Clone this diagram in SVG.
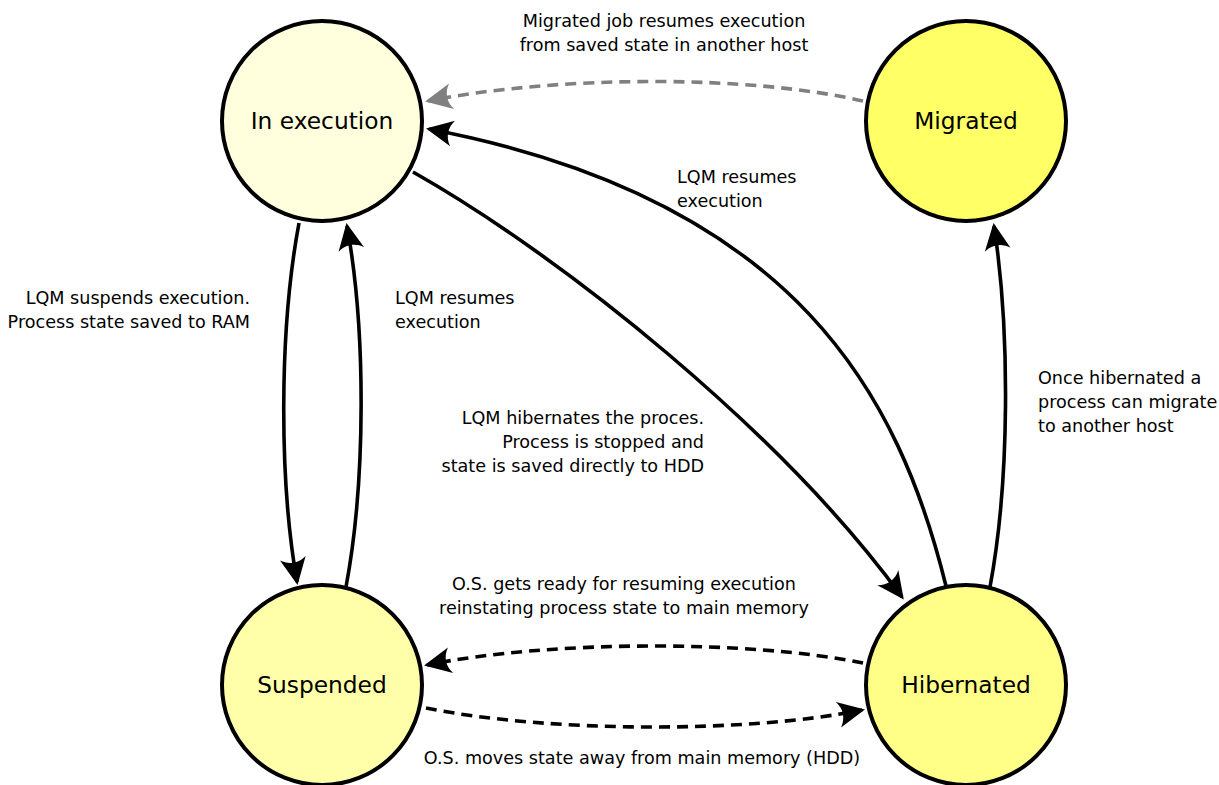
<svg xmlns="http://www.w3.org/2000/svg" width="1219" height="785" viewBox="0 0 1219 785">
  <defs>
    <style>
      .state { stroke: #000; stroke-width: 4; }
      .state-label { font-family: "DejaVu Sans", "Liberation Sans", sans-serif; font-size: 23.3px; fill: #000; text-anchor: middle; }
      .edge { fill: none; stroke: #000; stroke-width: 3.6; }
      .dashed { stroke-dasharray: 11 7; }
      .grey { stroke: #808080; }
      .edge-label { font-family: "DejaVu Sans", "Liberation Sans", sans-serif; font-size: 17.6px; fill: #000; }
    </style>
    <marker id="arrow" markerUnits="userSpaceOnUse" orient="auto" markerWidth="60" markerHeight="60" refX="0" refY="0" viewBox="-30 -30 60 60" overflow="visible">
      <path d="M3,0 L-24,-13 C-18,-5 -18,5 -24,13 Z" fill="#000"/>
    </marker>
    <marker id="arrow-grey" markerUnits="userSpaceOnUse" orient="auto" markerWidth="60" markerHeight="60" refX="0" refY="0" viewBox="-30 -30 60 60" overflow="visible">
      <path d="M3,0 L-24,-13 C-18,-5 -18,5 -24,13 Z" fill="#808080"/>
    </marker>
  </defs>

  <rect width="1219" height="785" fill="#fff"/>

  <!-- transitions -->
  <g id="connectors">
    <path class="edge" d="M299,223 C279,330 279,480 297,582" marker-end="url(#arrow)"/>
    <path class="edge" d="M346,587 C366,480 366,330 347,226" marker-end="url(#arrow)"/>
    <path class="edge" d="M413,172 C560,255 780,430 902,597" marker-end="url(#arrow)"/>
    <path class="edge" d="M946,586 C900,400 800,200 429,129" marker-end="url(#arrow)"/>
    <path class="edge" d="M990,587 C1010,480 1010,330 994,226" marker-end="url(#arrow)"/>
    <path class="edge dashed grey" d="M863,101 C750,75 560,75 428,101" marker-end="url(#arrow-grey)"/>
    <path class="edge dashed" d="M863,663 C750,640 550,640 427,665" marker-end="url(#arrow)"/>
    <path class="edge dashed" d="M426,708 C550,733 750,733 862,710" marker-end="url(#arrow)"/>
  </g>

  <!-- transition labels -->
  <g id="labels">
    <text class="edge-label" text-anchor="middle" x="664" y="27">Migrated job resumes execution</text>
    <text class="edge-label" text-anchor="middle" x="664" y="51">from saved state in another host</text>
    <text class="edge-label" x="677" y="183">LQM resumes</text>
    <text class="edge-label" x="677" y="207">execution</text>
    <text class="edge-label" text-anchor="end" x="250" y="304">LQM suspends execution.</text>
    <text class="edge-label" text-anchor="end" x="250" y="328">Process state saved to RAM</text>
    <text class="edge-label" x="395" y="304">LQM resumes</text>
    <text class="edge-label" x="395" y="328">execution</text>
    <text class="edge-label" text-anchor="end" x="704" y="424">LQM hibernates the proces.</text>
    <text class="edge-label" text-anchor="end" x="704" y="448">Process is stopped and</text>
    <text class="edge-label" text-anchor="end" x="704" y="472">state is saved directly to HDD</text>
    <text class="edge-label" x="1038" y="384">Once hibernated a</text>
    <text class="edge-label" x="1038" y="408">process can migrate</text>
    <text class="edge-label" x="1038" y="432">to another host</text>
    <text class="edge-label" text-anchor="middle" x="624" y="590">O.S. gets ready for resuming execution</text>
    <text class="edge-label" text-anchor="middle" x="624" y="614">reinstating process state to main memory</text>
    <text class="edge-label" text-anchor="middle" x="642" y="764">O.S. moves state away from main memory (HDD)</text>
  </g>

  <!-- states -->
  <g id="in-execution">
    <circle class="state" cx="322" cy="121" r="100" fill="#ffffdd"/>
    <text class="state-label" x="322" y="129">In execution</text>
  </g>
  <g id="migrated">
    <circle class="state" cx="966" cy="121" r="100" fill="#ffff66"/>
    <text class="state-label" x="966" y="129">Migrated</text>
  </g>
  <g id="suspended">
    <circle class="state" cx="322" cy="685" r="100" fill="#ffffaa"/>
    <text class="state-label" x="322" y="693">Suspended</text>
  </g>
  <g id="hibernated">
    <circle class="state" cx="966" cy="685" r="100" fill="#ffff88"/>
    <text class="state-label" x="966" y="693">Hibernated</text>
  </g>
</svg>
